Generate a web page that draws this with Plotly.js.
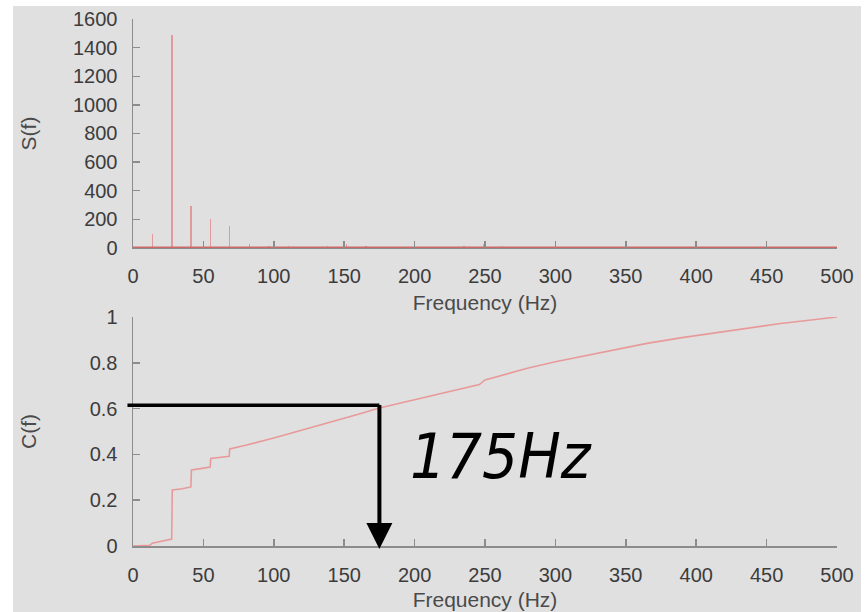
<!DOCTYPE html>
<html><head><meta charset="utf-8">
<script src="https://cdn.plot.ly/plotly-3.0.1.min.js"></script>
<style>html,body{margin:0;padding:0;background:#fff;}
#chart{position:absolute;left:13px;top:6px;width:848px;height:606px;}</style>
</head><body><div id="chart"></div><script>
// Spectrum S(f): stems
const peakFreq = [13.7, 27.7, 41.3, 55.0, 68.5, 82.8, 96.6, 110.4, 124.2, 138.0, 151.8, 165.6, 207.0, 221.0, 235.0, 248.8, 262.3, 276.0, 290.0, 304.5];
const peakAmp  = [95, 1485, 293, 200, 156, 25, 15, 15, 10, 12, 30, 12, 8, 8, 15, 25, 15, 8, 5, 4];
// noise floor of the spectrum
const floorFreq = [0, 500];
const floorAmp  = [2, 2];
// Cumulative C(f)
const cumFreq = [0, 12, 13.7, 20, 27.5, 27.9, 35, 41.1, 41.5, 48, 54.8, 55.2, 62, 68.3, 68.7, 80, 100, 120, 140, 160, 175, 200, 225, 246, 250, 265, 280, 300, 320, 340, 365, 390, 412, 435, 460, 480, 500];
const cumVal  = [0, 0.003, 0.012, 0.02, 0.03, 0.245, 0.25, 0.258, 0.332, 0.338, 0.345, 0.382, 0.386, 0.392, 0.424, 0.44, 0.472, 0.506, 0.54, 0.575, 0.603, 0.64, 0.675, 0.705, 0.725, 0.75, 0.776, 0.805, 0.83, 0.855, 0.885, 0.91, 0.93, 0.95, 0.972, 0.986, 1.0];
// Marked cutoff
const cutoffFreq = 175;
const cutoffLevel = 0.615;
const cutoffLabel = '175Hz';
const xTitle = 'Frequency (Hz)';
const y1Title = 'S(f)';
const y2Title = 'C(f)';

const axisCol = '#8c8c8c';
const tickFont = {family: 'Liberation Sans, Arial, sans-serif', size: 20, color: '#3c3c3c'};
const titleFont = {family: 'Liberation Sans, Arial, sans-serif', size: 21, color: '#4a4a4a'};
function ax(extra) {
  return Object.assign({
    showline: true, linecolor: axisCol, linewidth: 1.5,
    ticks: 'inside', ticklen: 7, tickwidth: 1.5, tickcolor: axisCol,
    showgrid: false, zeroline: false, tickfont: tickFont, ticklabelstandoff: 10
  }, extra);
}

const traces = [
  {type: 'bar', x: peakFreq, y: peakAmp, width: 1.0, xaxis: 'x', yaxis: 'y',
   marker: {color: 'rgba(225,95,95,0.55)', line: {width: 0}}, hoverinfo: 'skip'},
  {type: 'scatter', mode: 'lines', x: floorFreq, y: floorAmp, xaxis: 'x', yaxis: 'y',
   line: {color: '#cc6a6a', width: 2.5}, cliponaxis: false, hoverinfo: 'skip'},
  {type: 'scatter', mode: 'lines', x: cumFreq, y: cumVal, xaxis: 'x2', yaxis: 'y2',
   line: {color: '#e89a9a', width: 1.6}, hoverinfo: 'skip'}
];

const layout = {
  width: 848, height: 606,
  paper_bgcolor: '#e0e0e0', plot_bgcolor: '#e0e0e0',
  margin: {l: 120, r: 24, t: 13, b: 66},
  showlegend: false, bargap: 0,
  xaxis: ax({domain: [0, 1], anchor: 'y', range: [0, 500], dtick: 50, tick0: 0,
    title: {text: xTitle, font: titleFont, standoff: 9}}),
  yaxis: ax({domain: [0.5655, 1], anchor: 'x', range: [0, 1600], dtick: 200, tick0: 0,
    title: {text: y1Title, font: titleFont, standoff: 30}}),
  xaxis2: ax({domain: [0, 1], anchor: 'y2', range: [0, 500], dtick: 50, tick0: 0,
    title: {text: xTitle, font: titleFont, standoff: 8}}),
  yaxis2: ax({domain: [0, 0.4345], anchor: 'x2', range: [0, 1], dtick: 0.2, tick0: 0,
    title: {text: y2Title, font: titleFont, standoff: 47}}),
  annotations: [
    {xref: 'x2', yref: 'y2', axref: 'x2', ayref: 'y2', x: cutoffFreq, y: cutoffLevel,
     ax: -5, ay: cutoffLevel, text: '', showarrow: true, arrowhead: 0, arrowwidth: 3.5, arrowcolor: '#000'},
    {xref: 'x2', yref: 'y2', axref: 'x2', ayref: 'y2', x: cutoffFreq, y: -0.013,
     ax: cutoffFreq, ay: cutoffLevel + 0.007, text: '', showarrow: true, arrowhead: 2,
     arrowsize: 1.3, arrowwidth: 4, arrowcolor: '#000'},
    {xref: 'x2', yref: 'y2', x: 195, y: 0.39, xanchor: 'left', yanchor: 'middle',
     text: cutoffLabel, showarrow: false,
     font: {family: 'DejaVu Sans Condensed, DejaVu Sans, sans-serif', size: 63, style: 'italic', color: '#000'}}
  ]
};
Plotly.newPlot('chart', traces, layout, {displayModeBar: false, staticPlot: true});
</script></body></html>
